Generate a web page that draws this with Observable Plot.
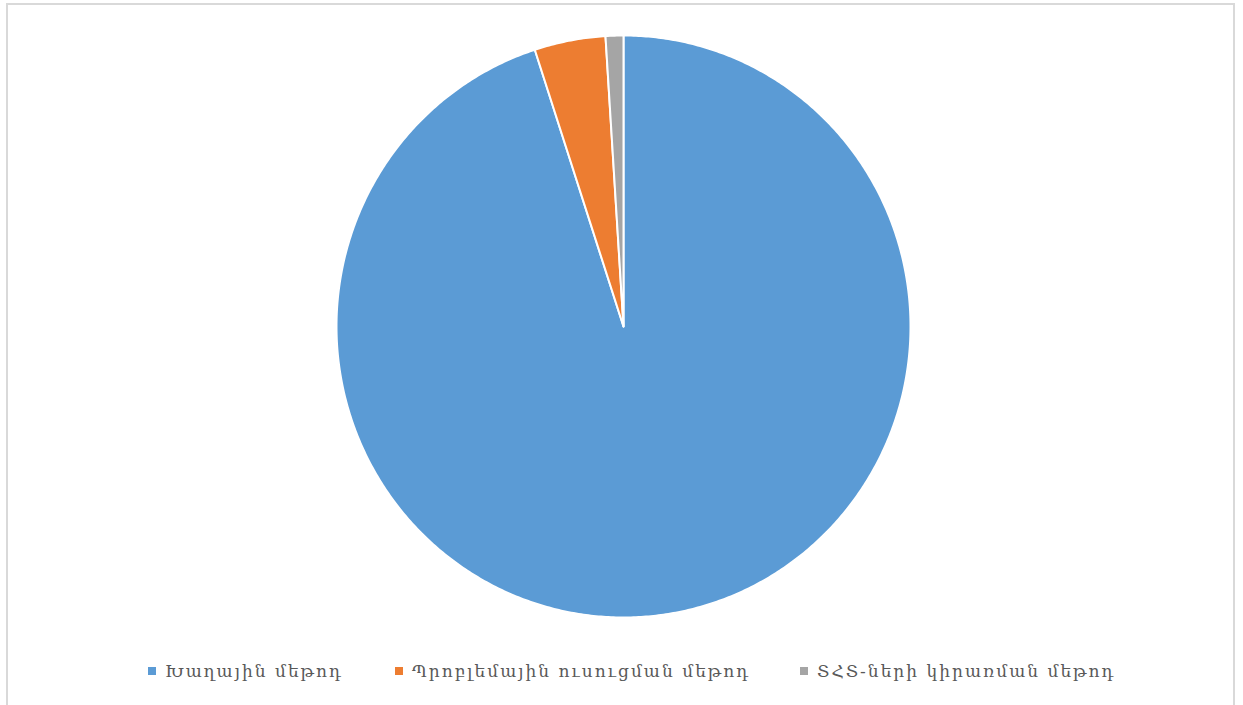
<!DOCTYPE html>
<html>
<head>
<meta charset="utf-8">
<script src="https://cdn.jsdelivr.net/npm/d3@7"></script>
<script src="https://cdn.jsdelivr.net/npm/@observablehq/plot@0.6"></script>
<style>
  html, body { margin: 0; padding: 0; background: #fff; }
  #wrap { position: relative; width: 1243px; height: 705px; overflow: hidden; }
  #frame { position: absolute; left: 6px; top: 3px; width: 1229px; height: 720px; border: 2px solid #d9d9d9; box-sizing: border-box; pointer-events: none; }
  #chart { position: absolute; left: 0; top: 0; }
  #legend { position: absolute; left: 0; top: 655px; width: 1243px; height: 40px; font-family: "DejaVu Serif", serif; font-size: 17px; letter-spacing: 2px; color: #595959; }
  .item { position: absolute; top: 6px; white-space: nowrap; display: flex; align-items: center; }
  .sw { width: 8px; height: 8px; display: inline-block; margin-right: 9px; }
</style>
</head>
<body>
<div id="wrap">
  <div id="chart"></div>
  <div id="legend"></div>
  <div id="frame"></div>
</div>
<script>
const categories = ["Խաղային մեթոդ", "Պրոբլեմային ուսուցման մեթոդ", "ՏՀՏ-ների կիրառման մեթոդ"];
const values = [95, 4, 1];
const colors = ["#5B9BD5", "#ED7D31", "#A5A5A5"];
const legendLeft = [148, 395, 800];

const total = d3.sum(values);
const pts = [];
let start = 0;
values.forEach((v, i) => {
  const end = start + v / total * 2 * Math.PI;
  pts.push({key: categories[i], x: 0, y: 0});
  const n = Math.max(2, Math.ceil((end - start) / (Math.PI / 360)));
  for (let k = 0; k <= n; k++) {
    const a = start + (end - start) * k / n;
    pts.push({key: categories[i], x: Math.sin(a), y: Math.cos(a)});
  }
  start = end;
});

const W = 1243, H = 655;
const cx = 623, cy = 326, RX = 287, RY = 291;
const plot = Plot.plot({
  width: W,
  height: H,
  marginLeft: cx - RX,
  marginRight: W - (cx + RX),
  marginTop: cy - RY,
  marginBottom: H - (cy + RY),
  x: {domain: [-1, 1], axis: null},
  y: {domain: [-1, 1], axis: null},
  color: {domain: categories, range: colors},
  marks: [
    Plot.line(pts, {x: "x", y: "y", z: "key", fill: "key", stroke: "white", strokeWidth: 2, curve: "linear-closed", strokeLinejoin: "round"})
  ]
});
document.getElementById("chart").appendChild(plot);

const legend = document.getElementById("legend");
categories.forEach((c, i) => {
  const it = document.createElement("div");
  it.className = "item";
  it.style.left = legendLeft[i] + "px";
  it.innerHTML = `<span class="sw" style="background:${colors[i]}"></span><span>${c}</span>`;
  legend.appendChild(it);
});
</script>
</body>
</html>
